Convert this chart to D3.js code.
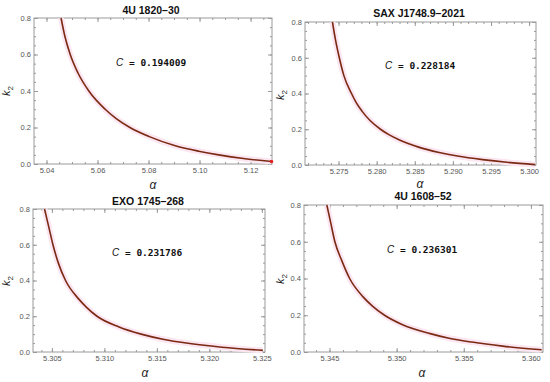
<!DOCTYPE html>
<html>
<head>
<meta charset="utf-8">
<script src="https://cdn.jsdelivr.net/npm/d3@7"></script>
<style>
  body { margin: 0; background: #fff; }
  svg text { font-family: "Liberation Sans", Arial, sans-serif; }
  .tick text { fill: #555; font-size: 7.5px; }
  .tick line { stroke: #999; }
</style>
</head>
<body>
<div id="chart"></div>
<script>
// panel titles and the C value printed in each panel
var titles = ["4U 1820\u201330", "SAX J1748.9\u20132021", "EXO 1745\u2013268", "4U 1608\u201352"];
var cValues = ["0.194009", "0.228184", "0.231786", "0.236301"];

// curves (alpha, k2)
var alpha1 = [5.0457, 5.0472, 5.0493, 5.0523, 5.0566, 5.0630, 5.0672, 5.0727, 5.0803, 5.0905, 5.0997, 5.1075, 5.1172, 5.1282];
var k2_1   = [0.80,   0.70,   0.60,   0.50,   0.40,   0.30,   0.25,   0.20,   0.15,   0.10,   0.07,   0.05,   0.03,   0.014];

var alpha2 = [5.2742, 5.2746, 5.2751, 5.2757, 5.2767, 5.2773, 5.2781, 5.2791, 5.2805, 5.2816, 5.2830, 5.2855, 5.2882, 5.2906, 5.2939, 5.2971, 5.3008];
var k2_2   = [0.80,   0.70,   0.60,   0.50,   0.40,   0.35,   0.30,   0.25,   0.20,   0.17,   0.14,   0.10,   0.07,   0.05,   0.03,   0.015,  0.002];

var alpha3 = [5.3043, 5.3047, 5.3051, 5.3056, 5.3063, 5.3075, 5.3083, 5.3093, 5.3114, 5.3135, 5.3157, 5.3178, 5.3212, 5.3251];
var k2_3   = [0.80,   0.70,   0.60,   0.50,   0.40,   0.30,   0.25,   0.20,   0.14,   0.10,   0.07,   0.05,   0.027,  0.009];

var alpha4 = [5.3448, 5.3451, 5.3454, 5.3459, 5.3465, 5.3475, 5.3482, 5.3491, 5.3504, 5.3525, 5.3539, 5.3556, 5.3579, 5.3608];
var k2_4   = [0.80,   0.70,   0.60,   0.50,   0.40,   0.30,   0.25,   0.20,   0.15,   0.10,   0.075,  0.054,  0.032,  0.012];

// tick values
var xTicks1 = [5.04, 5.06, 5.08, 5.10, 5.12];
var xTicks2 = [5.275, 5.280, 5.285, 5.290, 5.295, 5.300];
var xTicks3 = [5.305, 5.310, 5.315, 5.320, 5.325];
var xTicks4 = [5.345, 5.350, 5.355, 5.360];
var yTicks = [0.0, 0.2, 0.4, 0.6, 0.8];

var svg = d3.select("#chart").append("svg")
  .attr("width", 550)
  .attr("height", 382);

// layout of each panel (frame box, x range, label spots)
var panels = [
  { alpha: alpha1, k2: k2_1, xTicks: xTicks1, fmt: ".2f", minor: 0.005,
    box: [34, 18, 272, 164], xDom: [5.0351, 5.1284],
    title: [151, 14], c: [116, 66], ylab: [10, 91], alab: [153, 189], dot: true },
  { alpha: alpha2, k2: k2_2, xTicks: xTicks2, fmt: ".3f", minor: 0.001,
    box: [305, 22, 536, 165], xDom: [5.2706, 5.3009],
    title: [419, 17], c: [385, 69], ylab: [284, 95], alab: [420, 188] },
  { alpha: alpha3, k2: k2_3, xTicks: xTicks3, fmt: ".3f", minor: 0.001,
    box: [33, 209, 265, 352], xDom: [5.3032, 5.3253],
    title: [148, 205], c: [112, 256], ylab: [10, 281], alab: [145, 377] },
  { alpha: alpha4, k2: k2_4, xTicks: xTicks4, fmt: ".3f", minor: 0.001,
    box: [304, 205, 543, 352], xDom: [5.3431, 5.3609],
    title: [423, 200], c: [387, 253], ylab: [284, 279], alab: [422, 377] }
];

panels.forEach(function(p, i) {
  var left = p.box[0], top = p.box[1], w = p.box[2] - p.box[0], h = p.box[3] - p.box[1];
  var g = svg.append("g").attr("transform", "translate(" + left + "," + top + ")");

  var x = d3.scaleLinear().domain(p.xDom).range([0, w]);
  var y = d3.scaleLinear().domain([0, 0.8]).range([h, 0]);

  var xMinor = d3.range(Math.ceil(p.xDom[0] / p.minor) * p.minor, p.xDom[1], p.minor);
  var yMinor = d3.range(0, 0.8001, 0.05);

  // minor ticks on all four sides
  [d3.axisBottom, d3.axisTop].forEach(function(ax, j) {
    g.append("g")
      .attr("transform", "translate(0," + (j == 0 ? h : 0) + ")")
      .call(ax(x).tickValues(xMinor).tickSize(-2).tickFormat(""))
      .call(function(s) { s.select(".domain").remove(); });
  });
  [d3.axisLeft, d3.axisRight].forEach(function(ax, j) {
    g.append("g")
      .attr("transform", "translate(" + (j == 0 ? 0 : w) + ",0)")
      .call(ax(y).tickValues(yMinor).tickSize(-2).tickFormat(""))
      .call(function(s) { s.select(".domain").remove(); });
  });

  // major ticks
  g.append("g")
    .attr("transform", "translate(0," + h + ")")
    .call(d3.axisBottom(x).tickValues(p.xTicks).tickSize(-4).tickPadding(4).tickFormat(d3.format(p.fmt)))
    .call(function(s) { s.select(".domain").remove(); });
  g.append("g")
    .call(d3.axisTop(x).tickValues(p.xTicks).tickSize(-4).tickFormat(""))
    .call(function(s) { s.select(".domain").remove(); });
  g.append("g")
    .call(d3.axisLeft(y).tickValues(yTicks).tickSize(-4).tickPadding(3).tickFormat(d3.format(".1f")))
    .call(function(s) { s.select(".domain").remove(); });
  g.append("g")
    .attr("transform", "translate(" + w + ",0)")
    .call(d3.axisRight(y).tickValues(yTicks).tickSize(-4).tickFormat(""))
    .call(function(s) { s.select(".domain").remove(); });

  g.selectAll(".tick text").attr("font-family", "Liberation Sans, Arial, sans-serif");

  // frame
  g.append("rect")
    .attr("width", w)
    .attr("height", h)
    .attr("fill", "none")
    .attr("stroke", "#9a9a9a")
    .attr("stroke-width", 1);

  var pts = p.alpha.map(function(a, k) { return [a, p.k2[k]]; });
  var line = d3.line()
    .x(function(d) { return x(d[0]); })
    .y(function(d) { return y(d[1]); })
    .curve(d3.curveMonotoneX);

  // faint pink halo + curve
  g.append("path")
    .datum(pts)
    .attr("fill", "none")
    .attr("stroke", "#fbe6f2")
    .attr("stroke-width", 6)
    .attr("d", line);
  g.append("path")
    .datum(pts)
    .attr("fill", "none")
    .attr("stroke", "#7a2a12")
    .attr("stroke-width", 1.6)
    .attr("d", line);

  if (p.dot) {
    var last = pts[pts.length - 1];
    g.append("circle")
      .attr("cx", x(last[0]))
      .attr("cy", y(last[1]))
      .attr("r", 1.8)
      .attr("fill", "#e02020");
  }

  // title
  svg.append("text")
    .attr("x", p.title[0])
    .attr("y", p.title[1])
    .attr("text-anchor", "middle")
    .attr("font-size", "10.5px")
    .attr("font-weight", "bold")
    .attr("fill", "#111")
    .text(titles[i]);

  // C = value
  var ct = svg.append("text")
    .attr("x", p.c[0])
    .attr("y", p.c[1])
    .attr("fill", "#111");
  ct.append("tspan")
    .attr("font-style", "italic")
    .attr("font-size", "10px")
    .text("C");
  ct.append("tspan")
    .attr("font-family", "DejaVu Sans Mono, monospace")
    .attr("font-weight", "bold")
    .attr("font-size", "9.5px")
    .attr("xml:space", "preserve")
    .text(" = " + cValues[i]);

  // axis labels
  var yl = svg.append("text")
    .attr("transform", "translate(" + p.ylab[0] + "," + p.ylab[1] + ") rotate(-90)")
    .attr("text-anchor", "middle")
    .attr("fill", "#222")
    .attr("font-size", "11px");
  yl.append("tspan").attr("font-style", "italic").text("k");
  yl.append("tspan").attr("font-size", "8px").attr("dy", 3).text("2");

  svg.append("text")
    .attr("x", p.alab[0])
    .attr("y", p.alab[1])
    .attr("text-anchor", "middle")
    .attr("font-style", "italic")
    .attr("font-size", "12px")
    .attr("fill", "#222")
    .text("\u03b1");
});
</script>
</body>
</html>
